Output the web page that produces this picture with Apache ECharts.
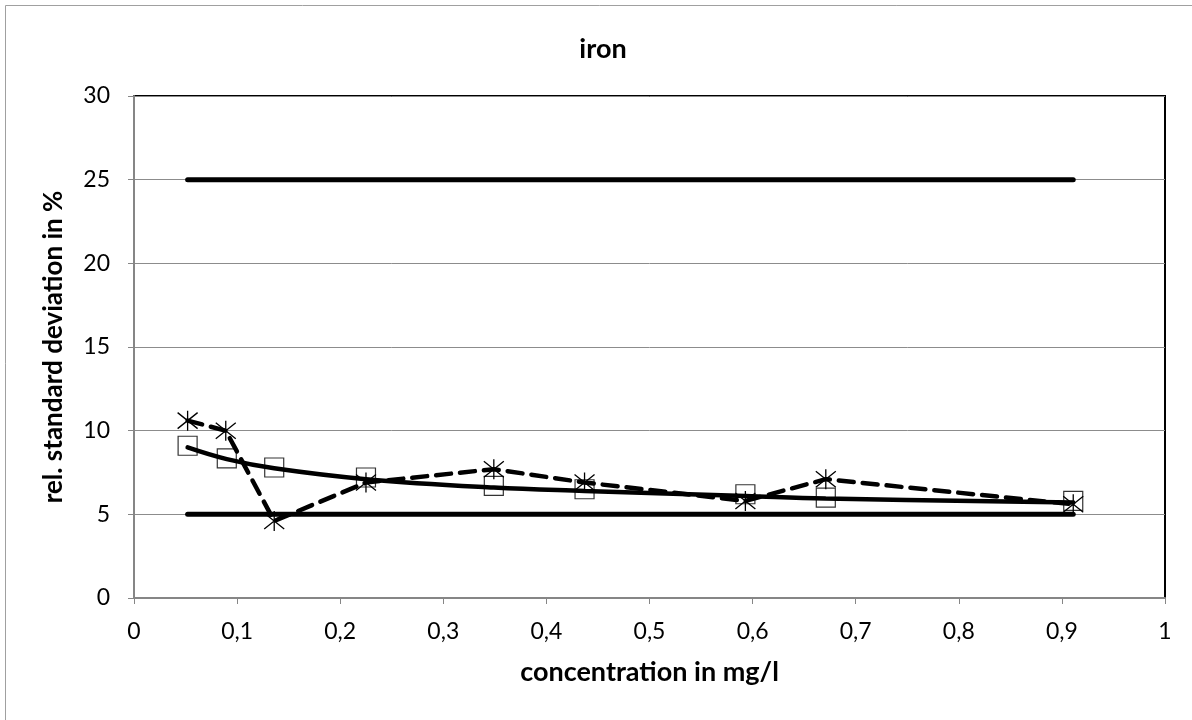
<!DOCTYPE html>
<html>
<head>
<meta charset="utf-8">
<script src="https://cdn.jsdelivr.net/npm/echarts@6/dist/echarts.min.js"></script>
<style>
  html, body { margin: 0; padding: 0; background: #fff; }
  #chart { width: 1192px; height: 720px; }
</style>
</head>
<body>
<div id="chart"></div>
<script>
// measured points (asterisks, dashed line)
var starX = [0.052, 0.089, 0.136, 0.225, 0.349, 0.437, 0.593, 0.671, 0.911];
var starY = [10.6, 10.0, 4.6, 6.9, 7.7, 6.9, 5.8, 7.1, 5.6];
// second data set (open squares)
var squareX = [0.052, 0.090, 0.136, 0.225, 0.349, 0.437, 0.593, 0.671, 0.911];
var squareY = [9.1, 8.35, 7.8, 7.2, 6.7, 6.5, 6.2, 6.0, 5.8];
// fitted curve through the squares (solid line)
var fitX = [0.052, 0.090, 0.136, 0.225, 0.349, 0.437, 0.593, 0.671, 0.911];
var fitY = [9.0, 8.3, 7.75, 7.1, 6.6, 6.4, 6.1, 5.95, 5.7];
// limit lines
var limitX = [0.052, 0.911];
var upperLimit = [25, 25];
var lowerLimit = [5, 5];

function pairs(xs, ys) {
    var out = [];
    for (var i = 0; i < xs.length; i++) {
        out.push([xs[i], ys[i]]);
    }
    return out;
}

var font = 'Lato';
var starPath = 'path://M10,0L10,20M0,2L20,18M20,2L0,18';

var myChart = echarts.init(document.getElementById('chart'));

var option = {
    animation: false,
    backgroundColor: '#fff',
    title: {
        text: 'iron',
        left: 598,
        top: 31,
        textAlign: 'center',
        textStyle: { fontFamily: font, fontSize: 27, fontWeight: 'bold', color: '#000' }
    },
    graphic: [{
        type: 'rect',
        shape: { x: 5.5, y: 5.5, width: 1200, height: 720 },
        style: { fill: 'none', stroke: '#a0a0a0', lineWidth: 1 },
        silent: true
    }],
    grid: {
        left: 134,
        right: 27,
        top: 96,
        bottom: 122,
        show: true,
        borderColor: '#000',
        borderWidth: 2,
        backgroundColor: 'transparent'
    },
    xAxis: {
        type: 'value',
        min: 0,
        max: 1,
        interval: 0.1,
        name: 'concentration in mg/l',
        nameLocation: 'middle',
        nameMoveOverlap: false,
        nameGap: 61,
        nameTextStyle: { fontFamily: font, fontSize: 27, fontWeight: 'bold', color: '#000' },
        axisLine: { show: true, lineStyle: { color: '#868686', width: 2 } },
        axisTick: { show: true, inside: false, length: 6, lineStyle: { color: '#868686' } },
        axisLabel: {
            fontFamily: font, fontSize: 23, color: '#000', margin: 22,
            formatter: function (v) { return String(Math.round(v * 10) / 10).replace('.', ','); }
        },
        splitLine: { show: false }
    },
    yAxis: {
        type: 'value',
        min: 0,
        max: 30,
        interval: 5,
        name: 'rel. standard deviation in %',
        nameLocation: 'middle',
        nameMoveOverlap: false,
        nameGap: 67,
        nameTextStyle: { fontFamily: font, fontSize: 26, fontWeight: 'bold', color: '#000' },
        axisLine: { show: true, lineStyle: { color: '#868686', width: 2 } },
        axisTick: { show: true, length: 6, lineStyle: { color: '#868686' } },
        axisLabel: { fontFamily: font, fontSize: 23, color: '#000', margin: 24 },
        splitLine: { show: true, lineStyle: { color: '#8c8c8c', width: 1 } }
    },
    series: [{
        name: 'upper',
        type: 'line',
        data: pairs(limitX, upperLimit),
        symbol: 'none',
        lineStyle: { color: '#000', width: 5, cap: 'round' },
        z: 3
    }, {
        name: 'lower',
        type: 'line',
        data: pairs(limitX, lowerLimit),
        symbol: 'none',
        lineStyle: { color: '#000', width: 5, cap: 'round' },
        z: 3
    }, {
        name: 'squares',
        type: 'scatter',
        data: pairs(squareX, squareY),
        symbol: 'rect',
        symbolSize: 19,
        itemStyle: { color: '#fff', borderColor: '#000', borderWidth: 1.2 },
        z: 2
    }, {
        name: 'fit',
        type: 'line',
        data: pairs(fitX, fitY),
        smooth: 0.4,
        symbol: 'none',
        lineStyle: { color: '#000', width: 4.5, cap: 'round' },
        z: 4
    }, {
        name: 'stars',
        type: 'line',
        data: pairs(starX, starY),
        symbol: starPath,
        symbolSize: [20, 20],
        showAllSymbol: true,
        itemStyle: { color: 'none', borderColor: '#000', borderWidth: 1.3 },
        lineStyle: { color: '#000', width: 4.5, type: [15, 9], cap: 'round' },
        z: 5
    }]
};

myChart.setOption(option);
</script>
</body>
</html>
